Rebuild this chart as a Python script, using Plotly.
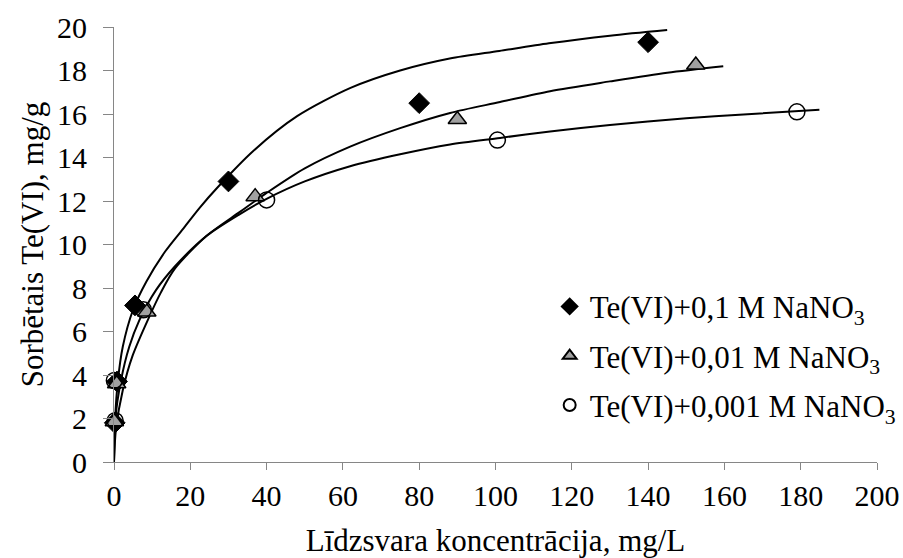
import plotly.graph_objects as go

# Measured points
x_01 = [0.2, 0.8, 5.5, 30, 80, 140]
y_01 = [1.8, 3.7, 7.2, 12.9, 16.5, 19.3]
x_001 = [0.1, 0.7, 8.6, 37, 90, 152.5]
y_001 = [1.85, 3.6, 6.9, 12.2, 15.75, 18.25]
x_0001 = [0.3, 0.1, 7.7, 40, 100.5, 179]
y_0001 = [1.9, 3.75, 7.0, 12.05, 14.8, 16.1]

# Trend curves
cx_01 = [0, 0.3, 1, 2.3, 5, 8.5, 13.5, 18, 22.5, 27, 36.5, 48, 62, 75, 88, 101, 114, 130, 145]
cy_01 = [0, 2.0, 3.7, 5.3, 7.0, 8.3, 9.7, 10.7, 11.7, 12.6, 14.3, 15.9, 17.2, 18.0, 18.55, 18.9, 19.25, 19.6, 19.86]
cx_001 = [0, 0.5, 2.3, 4.9, 9.3, 12.3, 16, 24.3, 33, 40, 50, 61.9, 75, 88.1, 101.2, 114.3, 130, 145, 159.7]
cy_001 = [0, 1.5, 3.3, 4.9, 6.7, 7.8, 8.9, 10.4, 11.5, 12.37, 13.5, 14.5, 15.35, 16.05, 16.55, 17.05, 17.5, 17.9, 18.2]
cx_0001 = [0, 0.3, 1.84, 4, 6.6, 11, 16, 24.3, 33, 40, 50, 61.9, 75, 88.1, 101.2, 114.3, 130, 150, 165, 184.9]
cy_0001 = [0, 1.9, 3.76, 5.3, 6.5, 7.9, 9.0, 10.4, 11.4, 12.1, 12.9, 13.6, 14.15, 14.6, 14.9, 15.2, 15.5, 15.8, 15.98, 16.2]

x_ticks = [0, 20, 40, 60, 80, 100, 120, 140, 160, 180, 200]
y_ticks = [0, 2, 4, 6, 8, 10, 12, 14, 16, 18, 20]

names = ["Te(VI)+0,1 M NaNO<sub>3</sub>",
         "Te(VI)+0,01 M NaNO<sub>3</sub>",
         "Te(VI)+0,001 M NaNO<sub>3</sub>"]

FONT = "Liberation Serif"

fig = go.Figure()
for cx, cy in [(cx_01, cy_01), (cx_001, cy_001), (cx_0001, cy_0001)]:
    fig.add_trace(go.Scatter(x=cx, y=cy, mode="lines", showlegend=False,
                             line=dict(color="black", width=2, shape="spline", smoothing=0.8),
                             hoverinfo="skip"))

fig.add_trace(go.Scatter(x=x_01, y=y_01, mode="markers", name=names[0], legendgroup="a",
                         cliponaxis=False,
                         marker=dict(symbol="diamond", size=16, color="black",
                                     line=dict(color="black", width=1))))
fig.add_trace(go.Scatter(x=x_001, y=y_001, mode="markers", name=names[1], legendgroup="b",
                         cliponaxis=False,
                         marker=dict(symbol="triangle-up", size=16, color="#a0a0a0",
                                     line=dict(color="black", width=1.5))))
fig.add_trace(go.Scatter(x=x_0001, y=y_0001, mode="markers", name=names[2], legendgroup="c",
                         cliponaxis=False,
                         marker=dict(symbol="circle", size=16, color="rgba(255,255,255,0)",
                                     line=dict(color="black", width=1.5))))

axis_common = dict(showline=True, linecolor="#868686", linewidth=1, ticks="outside",
                   tickcolor="#868686", showgrid=False, zeroline=False,
                   tickfont=dict(family=FONT, size=30, color="black"))

fig.update_layout(
    width=903, height=558,
    margin=dict(l=114, r=26, t=27, b=96, autoexpand=False),
    paper_bgcolor="white", plot_bgcolor="white",
    font=dict(family=FONT, color="black"),
    xaxis=dict(range=[0, 200], tickvals=x_ticks, ticklen=7,
               title=dict(text="Līdzsvara koncentrācija, mg/L", font=dict(family=FONT, size=31), standoff=18),
               **axis_common),
    yaxis=dict(range=[0, 20], tickvals=y_ticks, ticklen=10, ticklabelstandoff=10,
               title=dict(text="Sorbētais Te(VI), mg/g", font=dict(family=FONT, size=31), standoff=4),
               **axis_common),
    legend=dict(x=0.571, y=0.419, xanchor="left", yanchor="top", traceorder="grouped",
                tracegroupgap=6, font=dict(family=FONT, size=31), bgcolor="rgba(0,0,0,0)",
                itemsizing="constant"),
    showlegend=True,
)
fig.update_xaxes(automargin=False)
fig.update_yaxes(automargin=False)

fig.write_html(
    "out.html",
    config={"displayModeBar": False},
    post_script="document.body.style.margin='0';document.body.style.overflow='hidden';"
                "document.documentElement.style.overflow='hidden';",
)
